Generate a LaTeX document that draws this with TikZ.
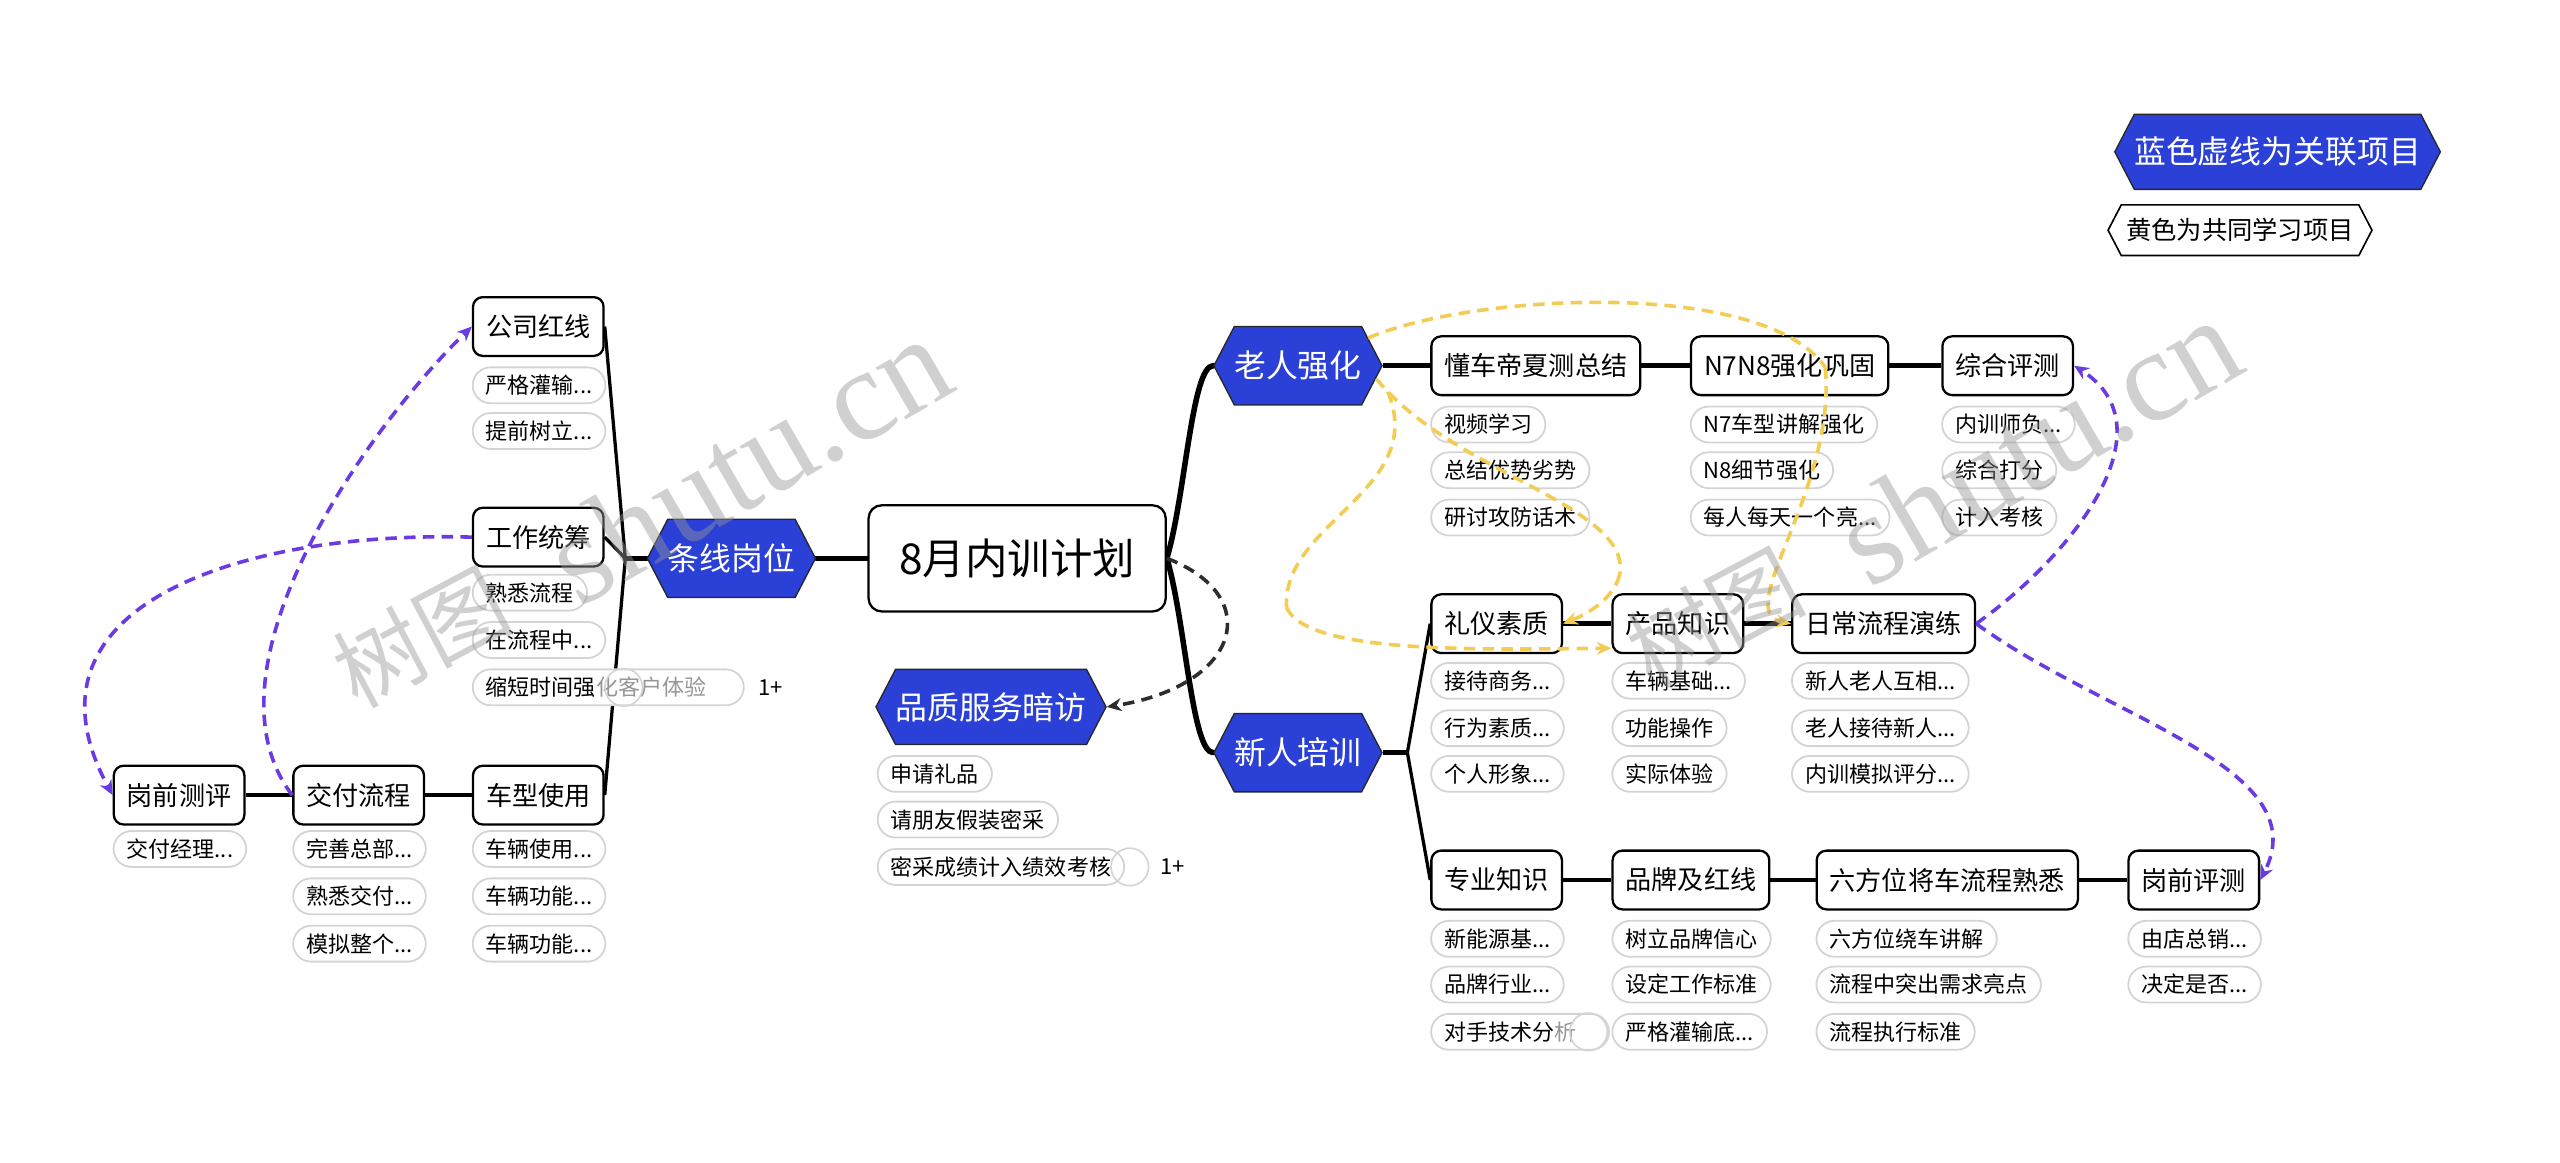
\documentclass[tikz,border=0pt]{standalone}
\usepackage{fontspec}
\setmainfont{Noto Sans CJK SC}
\newfontfamily\wmlatin{Liberation Serif}
\usetikzlibrary{shapes.symbols,arrows.meta}
\definecolor{hexblue}{RGB}{42,64,214}
\definecolor{lnpurple}{RGB}{106,58,226}
\definecolor{lnyellow}{RGB}{243,204,84}
\definecolor{pillgray}{RGB}{212,212,212}
\definecolor{dashdark}{RGB}{45,45,45}
\definecolor{fadetext}{RGB}{150,150,150}
\definecolor{wmgray}{RGB}{150,150,150}
\pgfdeclarelayer{bg}
\pgfsetlayers{bg,main}
\begin{document}
\begin{tikzpicture}[x=1pt,y=1pt,
  box/.style={draw=black,line width=1.4pt,rounded corners=6pt,fill=white,minimum height=36pt,inner xsep=8pt,inner ysep=0pt,font=\fontsize{16}{16}\selectfont,anchor=west},
  rootbox/.style={draw=black,line width=1.4pt,rounded corners=8pt,fill=white,minimum height=65pt,minimum width=182pt,inner sep=0pt,font=\fontsize{26}{26}\selectfont},
  pill/.style={draw=pillgray,line width=1.1pt,rounded corners=11pt,fill=white,minimum height=22pt,inner xsep=8pt,inner ysep=0pt,font=\fontsize{13.5}{13.5}\selectfont,anchor=west},
  hexb/.style={signal,signal to=east and west,signal pointer angle=125,draw=black!85,line width=0.8pt,fill=hexblue,text=white,font=\fontsize{19.5}{19.5}\selectfont,minimum height=48pt,inner xsep=0pt,inner ysep=0pt},
  hexw/.style={signal,signal to=east and west,signal pointer angle=125,draw=black,line width=1pt,fill=white,text=black,font=\fontsize{15.5}{15.5}\selectfont,minimum height=31pt,inner xsep=3pt,inner ysep=0pt},
  cnt/.style={font=\fontsize{13.5}{13.5}\selectfont,inner sep=0pt},
  ghost/.style={circle,draw=pillgray,line width=1pt,minimum size=23pt,inner sep=0pt},
  wm/.style={text=wmgray,opacity=0.45,inner sep=0pt},
  trunk/.style={line width=3.4pt,line cap=round},
  branch/.style={line width=2pt},
  rowln/.style={line width=2.8pt},
  purp/.style={draw=lnpurple,line width=2.2pt,dash pattern=on 7pt off 4.5pt,-{Stealth[length=9pt,width=8pt]}},
  yel/.style={draw=lnyellow,line width=2.2pt,dash pattern=on 7pt off 4.5pt,-{Stealth[length=9pt,width=8pt]}},
  blk/.style={draw=dashdark,line width=2.2pt,dash pattern=on 7pt off 4.5pt,-{Stealth[length=9pt,width=8pt]}}
]
\useasboundingbox (0,0) rectangle (1568,-712);

% ---------- centre ----------
\node[rootbox] (root) at (623,-342) {8月内训计划};
\node[hexb] (txgw) at (448,-342) {条线岗位};
\node[hexb,minimum height=46pt] (pzfw) at (607,-433) {品质服务暗访};
\node[hexb] (lrqh) at (795,-224) {老人强化};
\node[hexb] (xrpx) at (795,-461) {新人培训};

% ---------- left branch ----------
\node[box] (gshx) at (289,-200) {公司红线};
\node[pill] (a1) at (289,-236) {严格灌输...};
\node[pill] (a2) at (289,-264) {提前树立...};
\node[box] (gztc) at (289,-329) {工作统筹};
\node[pill] (b1) at (289,-363) {熟悉流程};
\node[pill] (b2) at (289,-392) {在流程中...};
\node[pill,text width=150pt,align=left] (b3) at (289,-421) {缩短时间强\textcolor{fadetext}{化客户体验}};
\node[ghost] (b3g) at (382,-421) {};
\node[cnt] (b3c) at (472,-421) {1+};
\node[box] (cxsy) at (289,-487) {车型使用};
\node[pill] (c1) at (289,-520) {车辆使用...};
\node[pill] (c2) at (289,-549) {车辆功能...};
\node[pill] (c3) at (289,-578) {车辆功能...};
\node[box] (jflc) at (179,-487) {交付流程};
\node[pill] (d1) at (179,-520) {完善总部...};
\node[pill] (d2) at (179,-549) {熟悉交付...};
\node[pill] (d3) at (179,-578) {模拟整个...};
\node[box] (gqcp) at (69,-487) {岗前测评};
\node[pill] (e1) at (69,-520) {交付经理...};

% ---------- quality visit ----------
\node[pill] (f1) at (537,-474) {申请礼品};
\node[pill] (f2) at (537,-502) {请朋友假装密采};
\node[pill] (f3) at (537,-531) {密采成绩计入绩效考核};
\node[ghost] (f3g) at (692,-531) {};
\node[cnt] (f3c) at (718,-531) {1+};

% ---------- old staff ----------
\node[box] (dcd) at (876,-224) {懂车帝夏测总结};
\node[pill] (g1) at (876,-260) {视频学习};
\node[pill] (g2) at (876,-288) {总结优势劣势};
\node[pill] (g3) at (876,-317) {研讨攻防话术};
\node[box] (n78) at (1035,-224) {N7N8强化巩固};
\node[pill] (h1) at (1035,-260) {N7车型讲解强化};
\node[pill] (h2) at (1035,-288) {N8细节强化};
\node[pill] (h3) at (1035,-317) {每人每天一个亮...};
\node[box] (zhpc) at (1189,-224) {综合评测};
\node[pill] (i1) at (1189,-260) {内训师负...};
\node[pill] (i2) at (1189,-288) {综合打分};
\node[pill] (i3) at (1189,-317) {计入考核};

% ---------- new staff ----------
\node[box] (lysz) at (876,-382) {礼仪素质};
\node[pill] (j1) at (876,-417) {接待商务...};
\node[pill] (j2) at (876,-446) {行为素质...};
\node[pill] (j3) at (876,-474) {个人形象...};
\node[box] (cpzs) at (987,-382) {产品知识};
\node[pill] (k1) at (987,-417) {车辆基础...};
\node[pill] (k2) at (987,-446) {功能操作};
\node[pill] (k3) at (987,-474) {实际体验};
\node[box] (rclc) at (1097,-382) {日常流程演练};
\node[pill] (l1) at (1097,-417) {新人老人互相...};
\node[pill] (l2) at (1097,-446) {老人接待新人...};
\node[pill] (l3) at (1097,-474) {内训模拟评分...};

\node[box] (zyzs) at (876,-539) {专业知识};
\node[pill] (m1) at (876,-575) {新能源基...};
\node[pill] (m2) at (876,-603) {品牌行业...};
\node[pill,text width=93pt,align=left] (m3) at (876,-632) {对手技术分\textcolor{fadetext}{析}};
\node[ghost] (m3g) at (973,-632) {};
\node[box] (pphx) at (987,-539) {品牌及红线};
\node[pill] (n1) at (987,-575) {树立品牌信心};
\node[pill] (n2) at (987,-603) {设定工作标准};
\node[pill] (n3) at (987,-632) {严格灌输底...};
\node[box] (lfw) at (1112,-539) {六方位将车流程熟悉};
\node[pill] (o1) at (1112,-575) {六方位绕车讲解};
\node[pill] (o2) at (1112,-603) {流程中突出需求亮点};
\node[pill] (o3) at (1112,-632) {流程执行标准};
\node[box] (gqpc) at (1303,-539) {岗前评测};
\node[pill] (q1) at (1303,-575) {由店总销...};
\node[pill] (q2) at (1303,-603) {决定是否...};

% ---------- legend ----------
\node[hexb,minimum height=46pt] (lg1) at (1395,-93) {蓝色虚线为关联项目};
\node[hexw] (lg2) at (1372,-141) {黄色为共同学习项目};

% ---------- tree connectors ----------
\begin{pgfonlayer}{bg}
\draw[trunk] (root.west) -- (txgw.east);
\coordinate (jL) at (383,-342);
\draw[trunk] (txgw.west) -- (jL);
\draw[branch] (jL) -- (gshx.east);
\draw[branch] (jL) -- (gztc.east);
\draw[branch] (jL) -- (cxsy.east);
\draw[rowln] (cxsy.west) -- (jflc.east);
\draw[rowln] (jflc.west) -- (gqcp.east);

\draw[trunk] (root.east) .. controls (726,-304) and (730,-224) .. (lrqh.west);
\draw[trunk] (root.east) .. controls (726,-380) and (730,-461) .. (xrpx.west);

\draw[rowln] (lrqh.east) -- (dcd.west);
\draw[rowln] (dcd.east) -- (n78.west);
\draw[rowln] (n78.east) -- (zhpc.west);

\coordinate (jR) at (862,-461);
\draw[rowln] (xrpx.east) -- (jR);
\draw[branch] (jR) -- (lysz.west);
\draw[branch] (jR) -- (zyzs.west);
\draw[rowln] (lysz.east) -- (cpzs.west);
\draw[rowln] (cpzs.east) -- (rclc.west);
\draw[rowln] (zyzs.east) -- (pphx.west);
\draw[rowln] (pphx.east) -- (lfw.west);
\draw[rowln] (lfw.east) -- (gqpc.west);
\end{pgfonlayer}

% ---------- relation lines ----------
\draw[blk] (root.east) .. controls (775,-365) and (760,-420) .. (pzfw.east);

\draw[purp] (jflc.west) .. controls (120,-410) and (225,-262) .. (gshx.west);
\draw[purp] (gztc.west) .. controls (150,-325) and (5,-370) .. (gqcp.west);
\draw[purp] (rclc.east) .. controls (1270,-340) and (1330,-262) .. (zhpc.east);
\draw[purp] (rclc.east) .. controls (1290,-440) and (1420,-470) .. (gqpc.east);

\coordinate (ya) at (838,-207);
\coordinate (yb) at (1118,-225);
\draw[yel,-] (ya) .. controls (900,-180) and (1080,-170) .. (yb);
\draw[yel] (yb) .. controls (1125,-300) and (1060,-375) .. (rclc.west);
\coordinate (yc) at (843,-232);
\coordinate (yd) at (992,-352);
\draw[yel,-] (yc) .. controls (890,-290) and (1000,-310) .. (yd);
\draw[yel] (yd) .. controls (988,-368) and (970,-377) .. (lysz.east);
\coordinate (ye) at (850,-240);
\coordinate (yf) at (788,-372);
\coordinate (yg) at (987,-397);
\draw[yel,-] (ye) .. controls (875,-300) and (785,-320) .. (yf);
\draw[yel] (yf) .. controls (800,-400) and (900,-398) .. (yg);

% ---------- watermarks ----------
\node[wm,rotate=28,font=\fontsize{55}{55}\selectfont] (wm1a) at (258,-390) {树图};
\node[wm,rotate=30,font=\fontsize{80}{80}\selectfont\wmlatin] (wm1b) at (458,-282) {shutu.cn};
\node[wm,rotate=28,font=\fontsize{55}{55}\selectfont] (wm2a) at (1050,-378) {树图};
\node[wm,rotate=30,font=\fontsize{80}{80}\selectfont\wmlatin] (wm2b) at (1248,-270) {shutu.cn};
\end{tikzpicture}
\end{document}
